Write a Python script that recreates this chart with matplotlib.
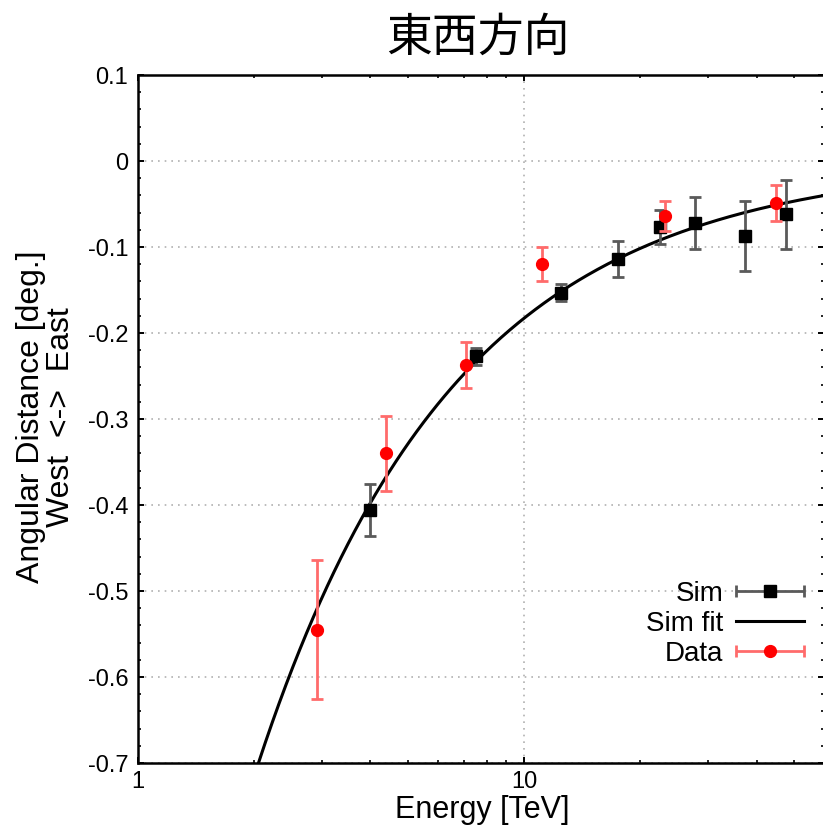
import numpy as np
import matplotlib.pyplot as plt
from matplotlib.ticker import MultipleLocator, LogLocator, NullFormatter, FixedLocator
from matplotlib.legend_handler import HandlerErrorbar
from matplotlib.container import ErrorbarContainer

plt.rcParams['font.family'] = ['Liberation Sans', 'DejaVu Sans']
plt.rcParams['axes.unicode_minus'] = False

# simulation points
sim_E = [4.0, 7.5, 12.5, 17.5, 22.5, 27.7, 37.4, 47.7]
sim_y = [-0.406, -0.227, -0.153, -0.114, -0.077, -0.072, -0.087, -0.062]
sim_err = [0.030, 0.010, 0.010, 0.021, 0.020, 0.030, 0.041, 0.040]

# observed data points
data_E = [2.91, 4.39, 7.07, 11.1, 23.2, 45.0]
data_y = [-0.545, -0.340, -0.237, -0.120, -0.064, -0.049]
data_err = [0.081, 0.044, 0.027, 0.020, 0.017, 0.021]

# power-law fit to the simulation: y = A * E^(-p)
fit_A = -1.287
fit_p = 0.8476

sim_style = dict(fmt='s', color='black', ms=8.5, ecolor='#5a5a5a',
                 elinewidth=2, capsize=4, capthick=2)
data_style = dict(fmt='o', color='red', ms=8.5, ecolor='#ff6b6b',
                  elinewidth=2, capsize=4, capthick=2)

W, H = 823, 827
fig = plt.figure(figsize=(W / 100, H / 100), dpi=100)
ax = fig.add_axes([138 / W, 1 - 763 / H, (824.5 - 138) / W, (763 - 75) / H])

E = np.logspace(0, np.log10(60), 400)
fit_line, = ax.plot(E, fit_A * E ** (-fit_p), color='black', lw=2.2, zorder=3)

ax.errorbar(sim_E, sim_y, yerr=sim_err, zorder=4, **sim_style)
ax.errorbar(data_E, data_y, yerr=data_err, zorder=5, **data_style)

# legend keys drawn as horizontal error bars
sim_key = ax.errorbar([np.nan], [np.nan], xerr=[1], **sim_style)
data_key = ax.errorbar([np.nan], [np.nan], xerr=[1], **data_style)

ax.set_xscale('log')
ax.set_xlim(1, 60)
ax.set_ylim(-0.7, 0.1)
ax.xaxis.set_major_locator(FixedLocator([1, 10]))
ax.xaxis.set_major_formatter(plt.FuncFormatter(lambda v, p: '%g' % v))
ax.xaxis.set_minor_locator(LogLocator(base=10, subs=np.arange(2, 10)))
ax.xaxis.set_minor_formatter(NullFormatter())
ax.yaxis.set_major_locator(MultipleLocator(0.1))
ax.yaxis.set_minor_locator(MultipleLocator(0.02))
ax.yaxis.set_major_formatter(plt.FuncFormatter(lambda v, p: '%g' % round(v, 2)))

ax.tick_params(which='both', direction='in', top=True, right=True, labelsize=17)
ax.tick_params(which='major', length=4, width=1.4)
ax.tick_params(which='minor', length=2.5, width=1.2)
ax.tick_params(axis='x', pad=6)
ax.tick_params(axis='y', pad=7)
for s in ax.spines.values():
    s.set_linewidth(1.8)

ax.grid(True, which='major', color='#b0b0b0', linestyle=(0, (1, 3)), lw=1.2)

fig.text(482 / W, 1 - 810 / H, 'Energy [TeV]', ha='center', va='center', fontsize=22)
fig.text(46 / W, 1 - 417 / H, 'Angular Distance [deg.]\nWest  <->  East',
         ha='center', va='center', rotation=90, multialignment='center',
         fontsize=23, linespacing=1.0)
fig.text(478 / W, 1 - 37 / H, '東西方向', ha='center', va='center', fontsize=33,
         family=['Noto Sans CJK JP', 'DejaVu Sans'])

ax.legend([sim_key, fit_line, data_key], ['Sim', 'Sim fit', 'Data'],
          loc='center right', bbox_to_anchor=(804 / W, 1 - 624 / H),
          bbox_transform=fig.transFigure, frameon=False, markerfirst=False,
          fontsize=20, handlelength=2.45, handletextpad=0.45, labelspacing=0.15,
          borderpad=0, borderaxespad=0,
          handler_map={ErrorbarContainer: HandlerErrorbar(xerr_size=1.22)})

fig.savefig('out.png', dpi=100)
